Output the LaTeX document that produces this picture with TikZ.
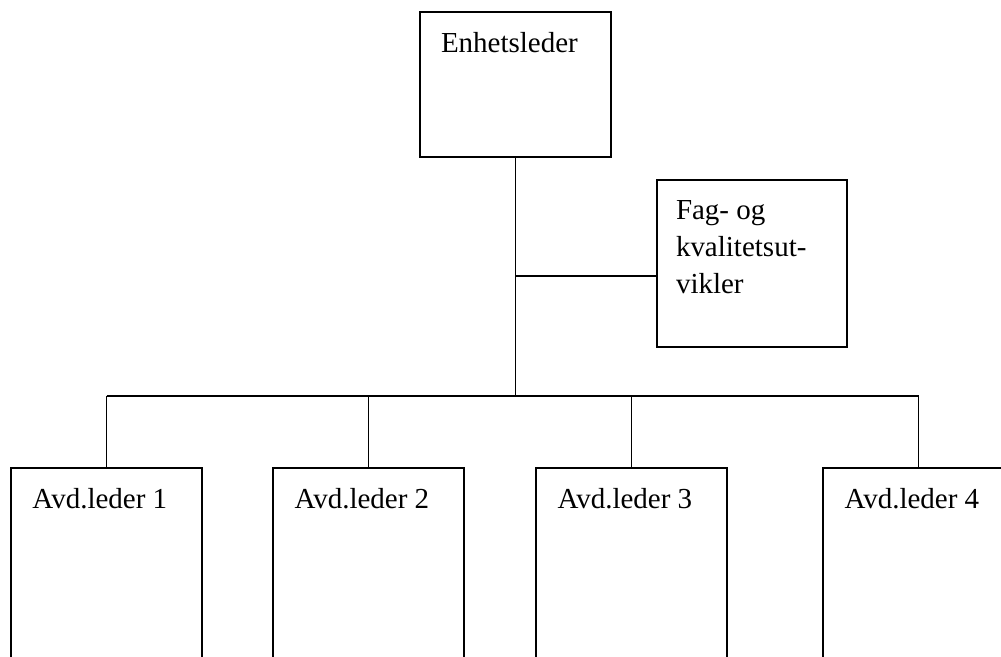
\documentclass[tikz,border=0pt]{standalone}
\usepackage{fontspec}
\setmainfont{Liberation Serif}
\usepackage{tikz}
\usetikzlibrary{calc,positioning}

\begin{document}
\begin{tikzpicture}[
    line width=1.1pt,
    orgbox/.style={draw,rectangle,inner sep=0pt},
    boxlabel/.style={anchor=north west,inner sep=0pt,align=left,
      font=\fontsize{16.5}{21}\selectfont}]
  \useasboundingbox (0,0) rectangle (20.02,-13.14);
  \clip (0,0) rectangle (20.02,-13.14);

  % Unit leader at the top, and the development post beside the line.
  \node[orgbox,minimum width=3.82cm,minimum height=2.9cm] (boss) at (10.31,-1.69) {};
  \node[boxlabel] (bosstext) at ($(boss.north west)+(0.42,-0.4)$) {Enhetsleder};
  \node[orgbox,minimum width=3.8cm,minimum height=3.34cm] (fag) at (15.04,-5.27) {};
  \node[boxlabel] (fagtext) at ($(fag.north west)+(0.38,-0.41)$)
    {Fag- og\\kvalitetsut-\\vikler};

  % Four department leaders, cut off by the lower edge.
  \foreach \i/\x in {1/2.13,2/7.37,3/12.63,4/18.37} {
    \node[orgbox,minimum width=3.82cm,minimum height=4cm,anchor=north]
      (avd\i) at (\x,-9.34) {};
    \node[boxlabel] (avdtext\i) at ($(avd\i.north west)+(0.43,-0.4)$)
      {Avd.leder \i};
  }

  % Connecting lines.
  \coordinate (branch) at (0,-5.52);
  \coordinate (bus) at (0,-7.92);
  \draw (boss.south) -- (boss.south |- bus);
  \draw (boss.south |- branch) -- (fag.west |- branch);
  \draw (avd1.north |- bus) -- (avd4.north |- bus);
  \foreach \i in {1,...,4}
    \draw (avd\i.north |- bus) -- (avd\i.north);
\end{tikzpicture}
\end{document}
